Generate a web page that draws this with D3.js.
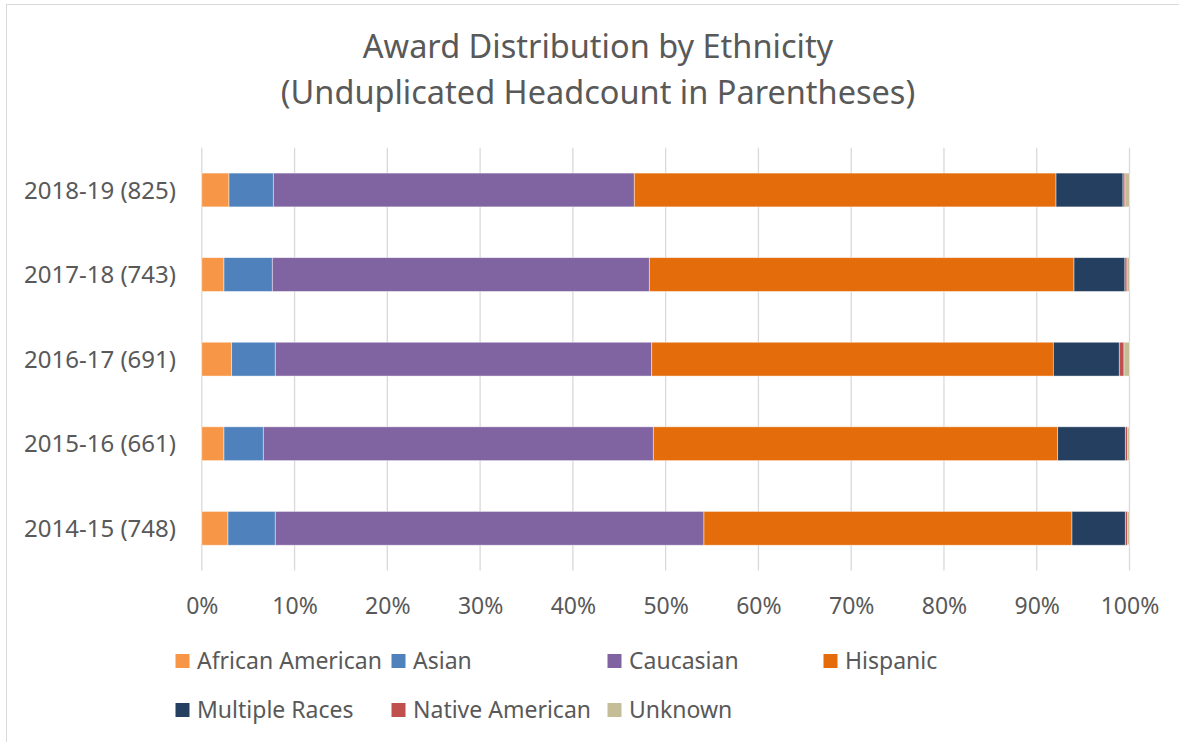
<!DOCTYPE html>
<html>
<head>
<meta charset="utf-8">
<script src="https://cdn.jsdelivr.net/npm/d3@7"></script>
<style>
	body { margin: 0; background: #fff; }
	text { font-family: "Noto Sans", sans-serif; fill: #595959; }
</style>
</head>
<body>
<script>
// data (percent of awards per year)
var years = ["2018-19 (825)", "2017-18 (743)", "2016-17 (691)", "2015-16 (661)", "2014-15 (748)"];
var groups = ["African American", "Asian", "Caucasian", "Hispanic", "Multiple Races", "Native American", "Unknown"];
var africanAmerican = [2.93, 2.39, 3.22, 2.39, 2.82];
var asian           = [4.78, 5.21, 4.70, 4.24, 5.10];
var caucasian       = [38.91, 40.64, 40.58, 42.04, 46.21];
var hispanic        = [45.46, 45.78, 43.29, 43.59, 39.67];
var multipleRaces   = [7.22, 5.49, 7.11, 7.29, 5.75];
var nativeAmerican  = [0.21, 0.22, 0.51, 0.26, 0.26];
var unknown         = [0.49, 0.27, 0.59, 0.19, 0.19];
var tickValues = [0, 0.1, 0.2, 0.3, 0.4, 0.5, 0.6, 0.7, 0.8, 0.9, 1];

var colors = ["#F79646", "#4F81BD", "#8064A2", "#E46C0A", "#243F60", "#C0504D", "#C4BD97"];

var W = 1179, H = 742;
var margin = {left: 201.8, right: W - 1129.5, top: 147.7, bottom: H - 570.6};

var svg = d3.select("body").append("svg")
	.attr("width", W)
	.attr("height", H);

// chart frame (cut off on right and bottom like the reference)
svg.append("rect")
	.attr("x", 6.5).attr("y", 4.5)
	.attr("width", 1300).attr("height", 900)
	.attr("fill", "none")
	.attr("stroke", "#d9d9d9")
	.attr("stroke-width", 1);

// build rows for the stack
var series = [africanAmerican, asian, caucasian, hispanic, multipleRaces, nativeAmerican, unknown];
var rows = years.map(function(y, i){
	var r = {year: y};
	groups.forEach(function(g, j){ r[g] = series[j][i]; });
	return r;
});

var stack = d3.stack().keys(groups).offset(d3.stackOffsetExpand);
var stacked = stack(rows);

var x = d3.scaleLinear().domain([0, 1]).range([margin.left, W - margin.right]);
var y = d3.scaleBand().domain(years)
	.range([margin.top, H - margin.bottom])
	.paddingInner(0.6).paddingOuter(0.3);

var color = d3.scaleOrdinal().domain(groups).range(colors);

// gridlines
svg.append("g").selectAll("line")
	.data(tickValues).enter().append("line")
		.attr("x1", function(d){ return x(d); })
		.attr("x2", function(d){ return x(d); })
		.attr("y1", margin.top)
		.attr("y2", H - margin.bottom)
		.attr("stroke", "#d9d9d9")
		.attr("stroke-width", 1.3);

// bars
svg.append("g").selectAll("g")
	.data(stacked).enter().append("g")
		.attr("fill", function(d){ return color(d.key); })
	.selectAll("rect")
	.data(function(d){ return d; }).enter().append("rect")
		.attr("x", function(d){ return x(d[0]); })
		.attr("width", function(d){ return x(d[1]) - x(d[0]); })
		.attr("y", function(d){ return y(d.data.year); })
		.attr("height", y.bandwidth())
		.attr("stroke", "#fff")
		.attr("stroke-opacity", 0.6)
		.attr("stroke-width", 0.75);

// x axis labels
var xAxis = d3.axisBottom(x).tickValues(tickValues).tickSize(0).tickPadding(0)
	.tickFormat(d3.format(".0%"));
var gx = svg.append("g")
	.attr("transform", "translate(0," + 614 + ")")
	.call(xAxis);
gx.select(".domain").remove();
gx.selectAll("text")
	.attr("dy", 0)
	.style("font-size", "23px")
	.style("font-family", "'Noto Sans', sans-serif")
	.attr("fill", "#595959");

// y axis labels
var yAxis = d3.axisLeft(y).tickSize(0).tickPadding(0);
var gy = svg.append("g")
	.attr("transform", "translate(176,0)")
	.call(yAxis);
gy.select(".domain").remove();
gy.selectAll("text")
	.attr("dy", "0.36em")
	.style("font-size", "24px")
	.style("font-family", "'Noto Sans', sans-serif")
	.attr("fill", "#595959");

// title
var title = svg.append("text")
	.attr("text-anchor", "middle")
	.style("font-size", "32.5px");
title.append("tspan").attr("x", 598).attr("y", 58).text("Award Distribution by Ethnicity");
title.append("tspan").attr("x", 598).attr("y", 104).text("(Unduplicated Headcount in Parentheses)");

// legend
var legendPos = [
	[175.5, 661], [391.5, 661], [607.5, 661], [823.5, 661],
	[175.5, 710], [391.5, 710], [607.5, 710]
];
var lg = svg.append("g").selectAll("g")
	.data(groups).enter().append("g")
		.attr("transform", function(d, i){ return "translate(" + legendPos[i][0] + "," + legendPos[i][1] + ")"; });
lg.append("rect")
	.attr("x", 0).attr("y", -7)
	.attr("width", 14).attr("height", 14)
	.attr("fill", function(d){ return color(d); });
lg.append("text")
	.attr("x", 21.5)
	.attr("dy", "0.36em")
	.style("font-size", "23px")
	.text(function(d){ return d; });
</script>
</body>
</html>
